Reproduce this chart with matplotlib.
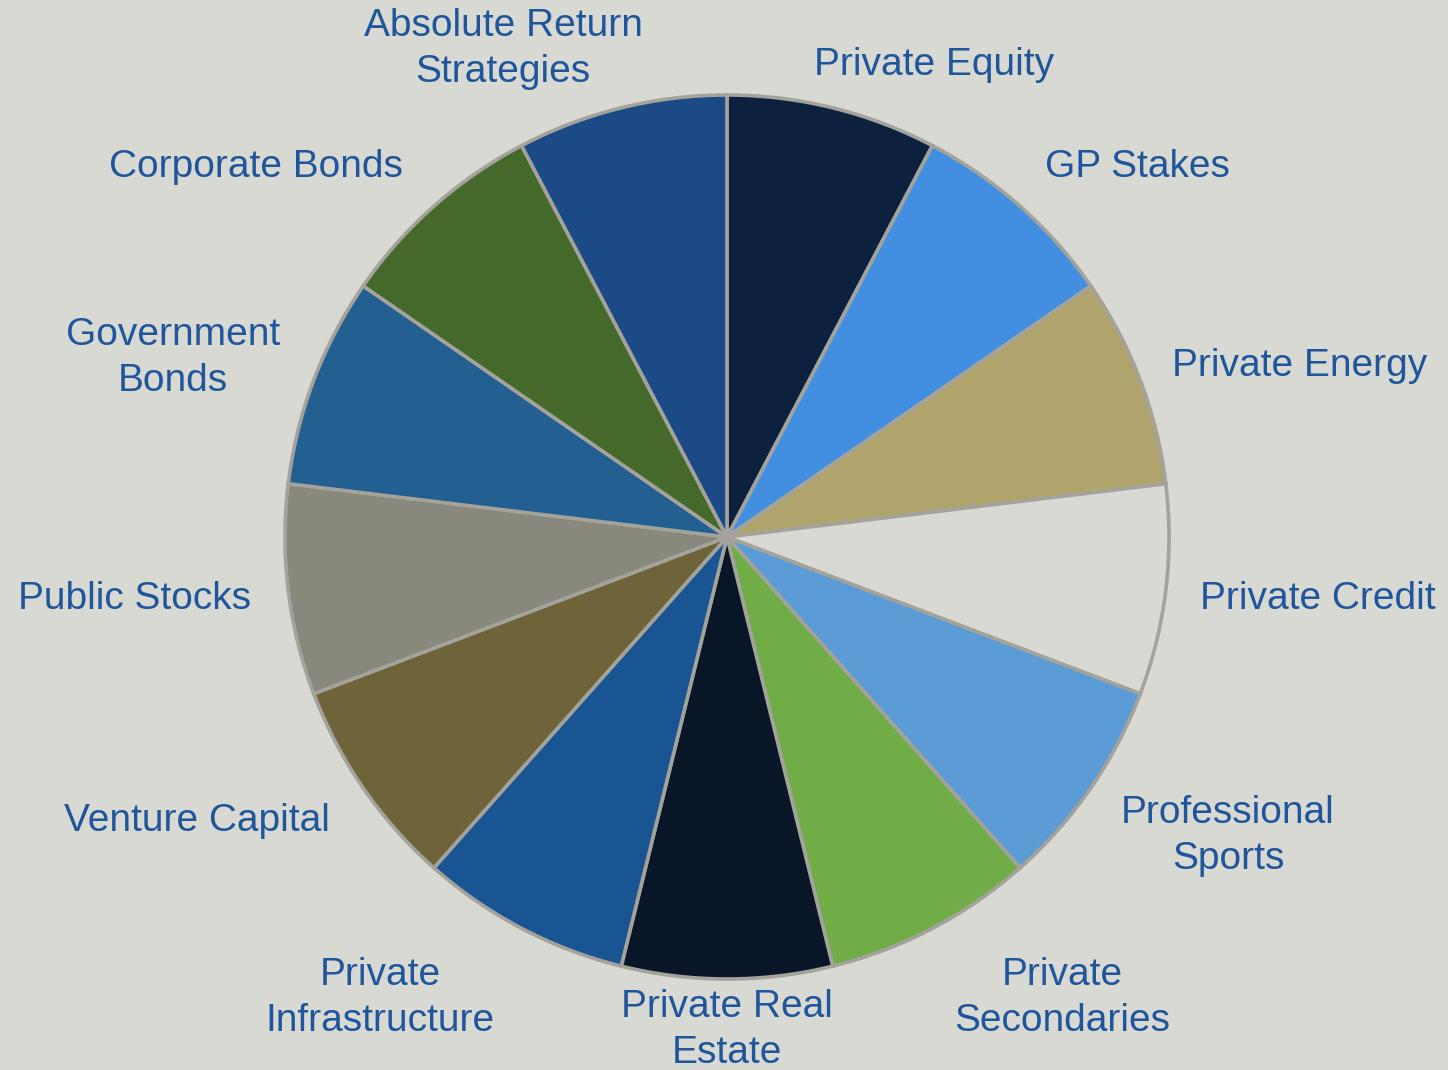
import numpy as np
import matplotlib
matplotlib.use("Agg")
from matplotlib import pyplot as plt

# 13 equal slices, clockwise from 12 o'clock
labels = ["Private Equity", "GP Stakes", "Private Energy", "Private Credit",
          "Professional\nSports", "Private\nSecondaries", "Private Real\nEstate",
          "Private\nInfrastructure", "Venture Capital", "Public Stocks",
          "Government\nBonds", "Corporate Bonds", "Absolute Return\nStrategies"]
shares = [1] * 13
colors = ["#0d213f", "#428ee0", "#b0a36b", "#d9d9d4", "#5b9bd6", "#70ad47",
          "#091628", "#1a5593", "#6e6339", "#88887d", "#245f91", "#44692b",
          "#1b4a86"]

# label centres in pixel coords (x from left, y from top)
label_pos = [(934, 65), (1137, 167), (1300, 366), (1318, 599), (1228, 836),
             (1062, 998), (727, 1030), (380, 998), (197, 821), (135, 599),
             (173, 358), (256, 167), (503, 49)]

W, H = 1448, 1070
bg = "#d9d9d4"
txt = "#1f559b"

fig = plt.figure(figsize=(W / 100, H / 100), dpi=100, facecolor=bg)
ax = fig.add_axes([0, 0, 1, 1])
ax.set_facecolor(bg)

ax.pie(shares, colors=colors, startangle=90, counterclock=False,
       radius=442, center=(727, H - 537),
       wedgeprops=dict(edgecolor="#a3a39c", linewidth=2.6))

for lab, (x, y) in zip(labels, label_pos):
    ax.text(x, H - y, lab, ha="center", va="center", color=txt,
            fontsize=28, family="Liberation Sans", linespacing=1.35)

ax.set_xlim(0, W)
ax.set_ylim(0, H)
ax.set_aspect("equal")
ax.axis("off")

fig.savefig("out.png", dpi=100, facecolor=bg)
